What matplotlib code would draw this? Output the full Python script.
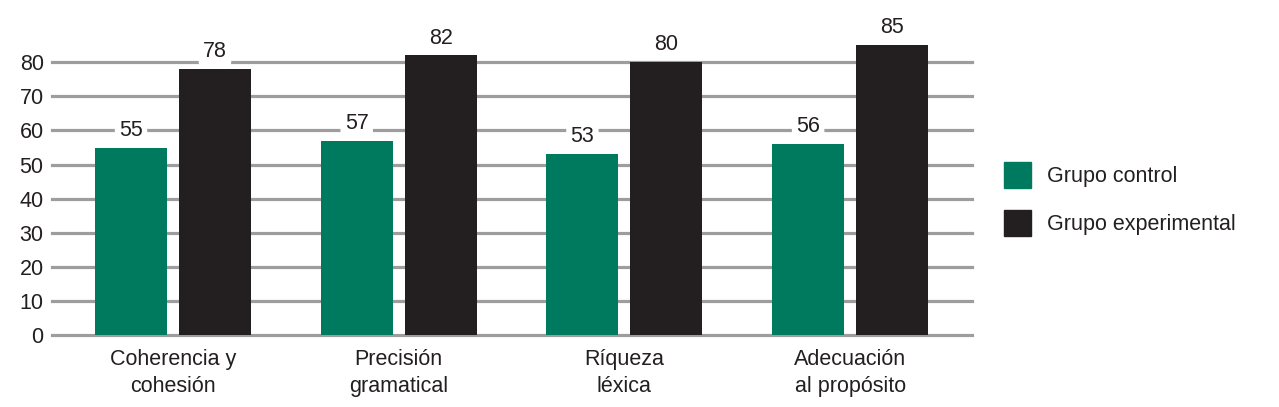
import numpy as np
import matplotlib
matplotlib.use("Agg")
from matplotlib import pyplot as plt
from matplotlib.patches import Patch

categorias = ["Coherencia y\ncohesión", "Precisión\ngramatical", "Ríqueza\nléxica", "Adecuación\nal propósito"]
grupo_control = [55, 57, 53, 56]
grupo_experimental = [78, 82, 80, 85]
series = ["Grupo control", "Grupo experimental"]
yticks = [0, 10, 20, 30, 40, 50, 60, 70, 80]

verde = "#007a5e"
negro = "#231f20"
gris = "#9d9d9d"
texto = "#231f20"

plt.rcParams["font.family"] = ["Liberation Sans", "DejaVu Sans"]
fs = 15.5

fig = plt.figure(figsize=(12.79, 4.07), dpi=100)
ax = fig.add_axes([52 / 1279, 72 / 407, 920 / 1279, 300 / 407])

x = np.arange(len(categorias))
ancho = 0.319
desp = 0.186

# lineas de fondo
for v in yticks:
    ax.axhline(v, color=gris, lw=2.3, zorder=0, clip_on=False)

b1 = ax.bar(x - desp, grupo_control, ancho, color=verde, zorder=2)
b2 = ax.bar(x + desp, grupo_experimental, ancho, color=negro, zorder=2)

# etiquetas de valor con fondo blanco
for barras, valores in ((b1, grupo_control), (b2, grupo_experimental)):
    for r, v in zip(barras, valores):
        ax.annotate(str(v), (r.get_x() + r.get_width() / 2, v),
                    xytext=(0, 5), textcoords="offset points",
                    ha="center", va="bottom", color=texto, fontsize=fs,
                    zorder=3,
                    bbox=dict(boxstyle="round,pad=0.2", fc="white", ec="none"))

ax.set_xlim(-0.536, 3.54)
ax.set_ylim(0, 88)
ax.set_yticks(yticks)
ax.set_xticks(x)
ax.set_xticklabels(categorias, linespacing=1.4)
ax.tick_params(length=0, colors=texto, labelsize=fs)
ax.tick_params(axis="y", pad=6)
ax.tick_params(axis="x", pad=10)
for s in ax.spines.values():
    s.set_visible(False)

handles = [Patch(color=verde), Patch(color=negro)]
fig.legend(handles, series, loc="center left", bbox_to_anchor=(1004 / 1279, 1 - 199 / 407),
           frameon=False, fontsize=fs, handlelength=1.25, handleheight=1.47,
           handletextpad=0.75, labelspacing=1.0, borderpad=0, borderaxespad=0,
           labelcolor=texto)

fig.savefig("out.png", dpi=100)
